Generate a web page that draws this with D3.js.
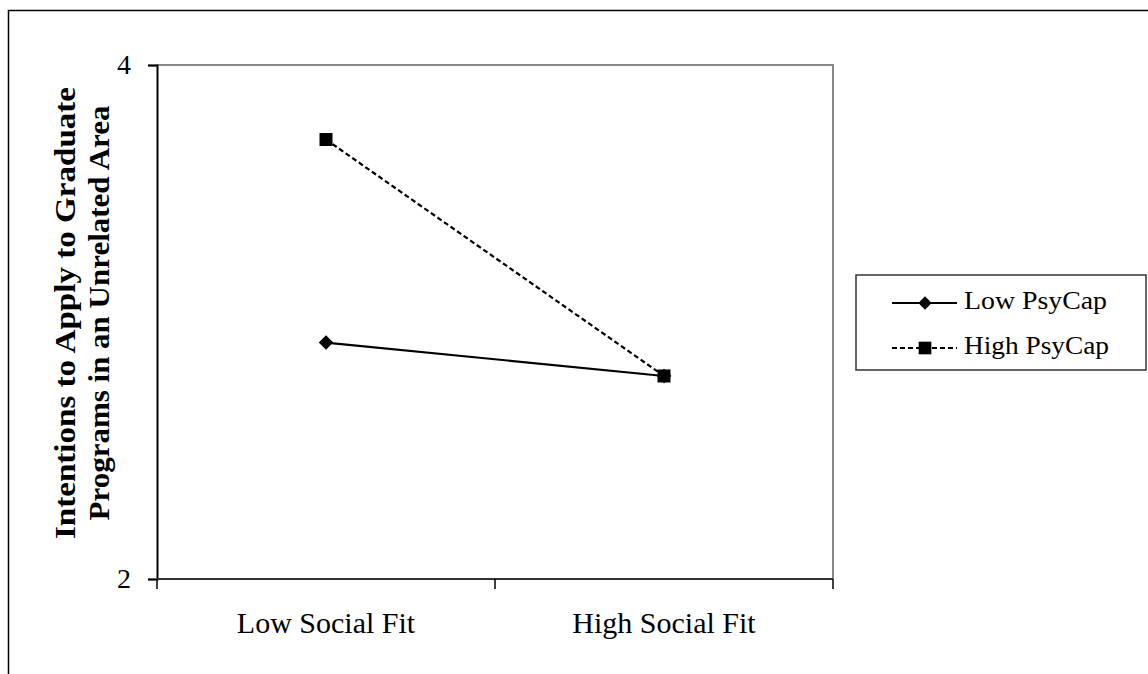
<!DOCTYPE html>
<html>
<head>
<meta charset="utf-8">
<script src="https://cdn.jsdelivr.net/npm/d3@7"></script>
<style>
  html, body { margin: 0; padding: 0; background: #fff; }
  svg { display: block; }
  text { font-family: "Liberation Serif", "Times New Roman", serif; fill: #000; }
</style>
</head>
<body>
<script>
// Interaction of social fit and psychological capital
const categories = ["Low Social Fit", "High Social Fit"];
const lowPsyCap = [2.92, 2.79];
const highPsyCap = [3.71, 2.79];
const yTicks = [2, 4];
const seriesNames = ["Low PsyCap", "High PsyCap"];

const W = 1148, H = 674;
const svg = d3.select("body").append("svg").attr("width", W).attr("height", H);

// outer frame (right and bottom edges fall off the page)
svg.append("rect")
  .attr("x", 8.5).attr("y", 10.5).attr("width", 1300).attr("height", 800)
  .attr("fill", "none").attr("stroke", "#000").attr("stroke-width", 1.5);

const plot = { left: 157, right: 833, top: 65, bottom: 579 };

const x = d3.scaleBand().domain(categories).range([plot.left, plot.right]).padding(0);
const y = d3.scaleLinear().domain([2, 4]).range([plot.bottom, plot.top]);

// plot area border (grey)
svg.append("path")
  .attr("d", `M${plot.left},${plot.top}H${plot.right}V${plot.bottom}`)
  .attr("fill", "none").attr("stroke", "#888").attr("stroke-width", 2);

// y axis
const yAxis = svg.append("g").attr("transform", `translate(${plot.left},0)`)
  .call(d3.axisLeft(y).tickValues(yTicks).tickFormat(d3.format("d")).tickSizeOuter(0).tickSize(9).tickPadding(17));
yAxis.select(".domain").attr("stroke", "#000").attr("stroke-width", 2);
yAxis.selectAll(".tick line").attr("stroke", "#000").attr("stroke-width", 1.5);
yAxis.selectAll(".tick text").attr("font-size", 28).attr("font-family", "Liberation Serif").attr("fill", "#000");

// x axis: ticks sit on category boundaries
const xAxisG = svg.append("g").attr("transform", `translate(0,${plot.bottom})`);
xAxisG.append("line")
  .attr("x1", plot.left).attr("x2", plot.right).attr("y1", 0).attr("y2", 0)
  .attr("stroke", "#333").attr("stroke-width", 2);
const bounds = categories.map(c => x(c)).concat([x(categories[categories.length - 1]) + x.bandwidth()]);
xAxisG.selectAll("line.tk").data(bounds).join("line").attr("class", "tk")
  .attr("x1", d => d).attr("x2", d => d).attr("y1", 0).attr("y2", 10)
  .attr("stroke", "#000").attr("stroke-width", 1.5);
xAxisG.selectAll("text.cat").data(categories).join("text").attr("class", "cat")
  .attr("x", d => x(d) + x.bandwidth() / 2).attr("y", 54)
  .attr("text-anchor", "middle").attr("font-size", 30)
  .text(d => d);

// y axis title
const yTitle = svg.append("text")
  .attr("transform", `translate(0,313) rotate(-90)`)
  .attr("text-anchor", "middle").attr("font-weight", "bold").attr("font-size", 29);
yTitle.append("tspan").attr("x", 0).attr("y", 75)
  .attr("textLength", 452).attr("lengthAdjust", "spacingAndGlyphs")
  .text("Intentions to Apply to Graduate");
yTitle.append("tspan").attr("x", 0).attr("y", 109)
  .attr("textLength", 415).attr("lengthAdjust", "spacingAndGlyphs")
  .text("Programs in an Unrelated Area");

const cx = d => x(d) + x.bandwidth() / 2;
const line = d3.line().x(d => cx(d.c)).y(d => y(d.v));

const lowData = categories.map((c, i) => ({ c, v: lowPsyCap[i] }));
const highData = categories.map((c, i) => ({ c, v: highPsyCap[i] }));

svg.append("path").datum(lowData).attr("d", line)
  .attr("fill", "none").attr("stroke", "#000").attr("stroke-width", 2.2);
svg.append("path").datum(highData).attr("d", line)
  .attr("fill", "none").attr("stroke", "#000").attr("stroke-width", 2.2)
  .attr("stroke-dasharray", "5,3");

// diamond = square turned 45 degrees
const diamond = d3.symbol().type(d3.symbolSquare).size(105);
const square = d3.symbol().type(d3.symbolSquare).size(169);

svg.selectAll("path.dm").data(lowData).join("path").attr("class", "dm")
  .attr("d", diamond).attr("transform", d => `translate(${cx(d.c)},${y(d.v)}) rotate(45)`)
  .attr("fill", "#000");
svg.selectAll("path.sq").data(highData).join("path").attr("class", "sq")
  .attr("d", square).attr("transform", d => `translate(${cx(d.c)},${y(d.v)})`)
  .attr("fill", "#000");

// legend
const lg = svg.append("g");
lg.append("rect").attr("x", 856).attr("y", 275).attr("width", 290).attr("height", 95)
  .attr("fill", "#fff").attr("stroke", "#333").attr("stroke-width", 1.5);
const rows = [
  { name: seriesNames[0], dash: null, sym: d3.symbol().type(d3.symbolSquare).size(88), rot: 45, y: 303, len: 143 },
  { name: seriesNames[1], dash: "5,3", sym: d3.symbol().type(d3.symbolSquare).size(160), rot: 0, y: 348, len: 145 }
];
rows.forEach(r => {
  lg.append("line").attr("x1", 892).attr("x2", 957).attr("y1", r.y).attr("y2", r.y)
    .attr("stroke", "#000").attr("stroke-width", 2)
    .attr("stroke-dasharray", r.dash);
  lg.append("path").attr("d", r.sym).attr("transform", `translate(925,${r.y}) rotate(${r.rot})`).attr("fill", "#000");
  lg.append("text").attr("x", 964).attr("y", r.y + 6).attr("font-size", 25)
    .attr("textLength", r.len).attr("lengthAdjust", "spacingAndGlyphs")
    .text(r.name);
});
</script>
</body>
</html>
